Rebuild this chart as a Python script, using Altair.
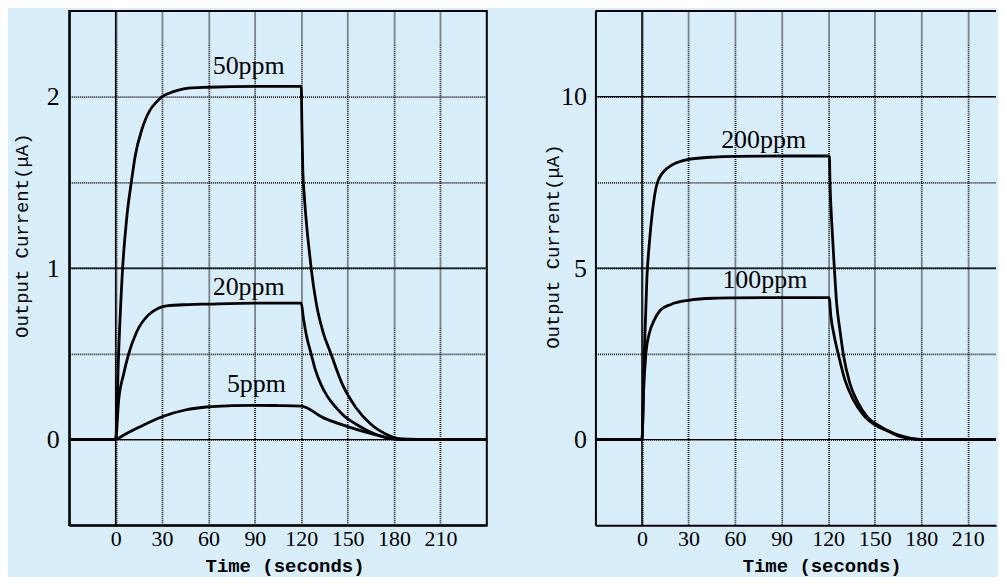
import altair as alt
import pandas as pd

BG = "#d8eefb"

# ---------------- data ----------------
# left panel
t_50 = [-30, 0, 1.9, 4.5, 7.3, 10.1, 12.6, 16.9, 22.3, 26, 30, 35, 40, 47, 60, 90, 120,
        120.4, 121, 122, 123.2, 124.7, 126.4, 129.6, 134, 139.2, 146.7, 155.3, 164.9, 176.7, 186, 210, 240]
y_50 = [0, 0, 0.5, 1.0, 1.306, 1.5, 1.653, 1.807, 1.923, 1.965, 2.0, 2.022, 2.037, 2.05, 2.055, 2.06, 2.06,
        1.85, 1.58, 1.42, 1.28, 1.14, 1.0, 0.8, 0.63, 0.5, 0.32, 0.187, 0.09, 0.023, 0.0, 0.0, 0.0]

t_20 = [-30, 0, 1.9, 5.1, 8.4, 13.7, 21.2, 27.6, 33, 47, 60, 90, 120,
        121.4, 123.5, 126.4, 129, 132.8, 137, 142.4, 148, 155.3, 162, 170.2, 183, 210, 240]
y_20 = [0, 0, 0.226, 0.38, 0.5, 0.63, 0.727, 0.766, 0.78, 0.787, 0.79, 0.795, 0.795,
        0.708, 0.6, 0.5, 0.41, 0.32, 0.25, 0.187, 0.135, 0.09, 0.055, 0.023, 0.0, 0.0, 0.0]

t_5 = [-30, 0, 5, 15, 30, 45, 60, 75, 90, 105, 120, 133.8, 150, 166, 180, 210, 240]
y_5 = [0, 0, 0.025, 0.071, 0.133, 0.172, 0.191, 0.197, 0.199, 0.198, 0.195, 0.129, 0.075, 0.033, 0.005, 0, 0]

# right panel
t_200 = [-30, 0, 1.5, 3.2, 4.7, 6.8, 10, 16.5, 30, 46.4, 60, 90, 120.8,
         121.2, 122.5, 124, 125.5, 127.6, 129.8, 134, 139.4, 145.8, 153.3, 160.8, 167.7, 179.4, 210, 240]
y_200 = [0, 0, 2.48, 4.74, 5.70, 6.67, 7.5, 7.92, 8.17, 8.24, 8.26, 8.27, 8.27,
         7.5, 6.18, 5.0, 3.96, 3.19, 2.48, 1.64, 1.06, 0.63, 0.39, 0.21, 0.1, 0, 0, 0]

t_100 = [-30, 0, 1.0, 2.5, 4.7, 7.9, 11.8, 18.6, 30, 46.4, 60, 90, 120.6,
         121.8, 124, 126.6, 130.8, 136.2, 142.6, 150.1, 158.7, 165.5, 179.4, 210, 240]
y_100 = [0, 0, 1.35, 2.48, 3.09, 3.48, 3.77, 3.94, 4.06, 4.12, 4.13, 4.14, 4.14,
         3.58, 3.0, 2.48, 1.74, 1.16, 0.72, 0.43, 0.24, 0.1, 0, 0, 0]

left_labels = ["50ppm", "20ppm", "5ppm"]
left_label_t = [86, 86, 91]
left_label_y = [2.176, 0.891, 0.324]

right_labels = ["200ppm", "100ppm"]
right_label_t = [78.4, 79.2]
right_label_y = [8.74, 4.64]

x_ticks = [0, 30, 60, 90, 120, 150, 180, 210]
left_y_grid = [0, 0.5, 1, 1.5, 2]
right_y_grid = [0, 2.5, 5, 7.5, 10]
left_solid_y = [0, 1]
right_solid_y = [0, 5, 10]
solid_x = [0]


def series(ts, ys, name):
    return pd.DataFrame({"t": ts, "y": ys, "s": name, "o": range(len(ts))})


left_df = pd.concat([series(t_50, y_50, "50"), series(t_20, y_20, "20"), series(t_5, y_5, "5")])
right_df = pd.concat([series(t_200, y_200, "200"), series(t_100, y_100, "100")])
left_lab = pd.DataFrame({"t": left_label_t, "y": left_label_y, "txt": left_labels})
right_lab = pd.DataFrame({"t": right_label_t, "y": right_label_y, "txt": right_labels})

GRID = dict(grid=True, gridDash=[1, 1], gridColor="#1a1a1a", gridWidth=1.8, gridOpacity=1,
            ticks=False, domain=True, domainColor="black", domainWidth=2)

H = 516


def panel(df, lab, xdom, ydom, ygrid, ysolid, width, ylab_expr, ytitle_x, ytitle_y,
          xtitle_x, ylabel_pad, framed):
    xs = alt.Scale(domain=xdom, nice=False, zero=False)
    ys = alt.Scale(domain=ydom, nice=False, zero=False)
    xaxis = alt.Axis(values=x_ticks, labelFont="Liberation Serif", labelFontSize=22,
                     labelColor="black", labelPadding=3, labelFlush=False,
                     title="Time (seconds)", titleFont="Liberation Mono", titleFontSize=19,
                     titleFontWeight="bold", titleColor="black", titleX=xtitle_x, titleY=46,
                     titleBaseline="alphabetic", **GRID)
    yaxis = alt.Axis(values=ygrid, labelExpr=ylab_expr, labelFont="Liberation Serif",
                     labelFontSize=26, labelColor="black", labelPadding=ylabel_pad,
                     labelFlush=False,
                     title="Output Current(μA)", titleFont="Liberation Mono", titleFontSize=19,
                     titleFontWeight="normal", titleColor="black", titleX=ytitle_x,
                     titleY=ytitle_y, titleBaseline="middle", titleAngle=270, **GRID)
    base = alt.Chart(df).mark_line(color="black", strokeWidth=2.8, clip=True,
                                   interpolate="monotone").encode(
        x=alt.X("t:Q", scale=xs, axis=xaxis),
        y=alt.Y("y:Q", scale=ys, axis=yaxis),
        detail="s:N",
        order="o:Q",
    )
    hr = alt.Chart(pd.DataFrame({"v": ysolid})).mark_rule(color="black", strokeWidth=1.2).encode(
        y=alt.Y("v:Q", scale=ys))
    vr = alt.Chart(pd.DataFrame({"v": solid_x})).mark_rule(color="black", strokeWidth=1.5).encode(
        x=alt.X("v:Q", scale=xs))
    txt = alt.Chart(lab).mark_text(font="Liberation Serif", fontSize=26, color="black",
                                   align="center", baseline="middle").encode(
        x=alt.X("t:Q", scale=xs), y=alt.Y("y:Q", scale=ys), text="txt:N")
    layers = [hr, vr, base, txt]
    if framed:
        view = alt.ViewBackground(stroke="black", strokeWidth=2, fill=BG)
    else:
        top = alt.Chart(pd.DataFrame({"v": [ydom[1]]})).mark_rule(
            color="black", strokeWidth=2).encode(y=alt.Y("v:Q", scale=ys))
        layers.append(top)
        view = alt.ViewBackground(stroke="transparent", fill=BG)
    return alt.layer(*layers).properties(width=width, height=H, view=view)


left = panel(left_df, left_lab, [-30, 240], [-0.5, 2.5], left_y_grid, left_solid_y, 419,
             "datum.value % 1 == 0 ? format(datum.value, 'd') : ''", -47.5, 225, 216, 10, True)
right = panel(right_df, right_lab, [-30, 228.2], [-2.5, 12.5], right_y_grid, right_solid_y, 402,
              "datum.value % 5 == 0 ? format(datum.value, 'd') : ''", -43, 236, 227, 9, False)

chart = alt.hconcat(left, right, spacing=54).properties(
    background=BG,
    padding={"left": 3.5, "top": 0, "right": 0, "bottom": 0},
).configure_view(stroke="black", strokeWidth=2, fill=BG)

chart.save("out.html", embed_options={"renderer": "svg", "actions": False})
